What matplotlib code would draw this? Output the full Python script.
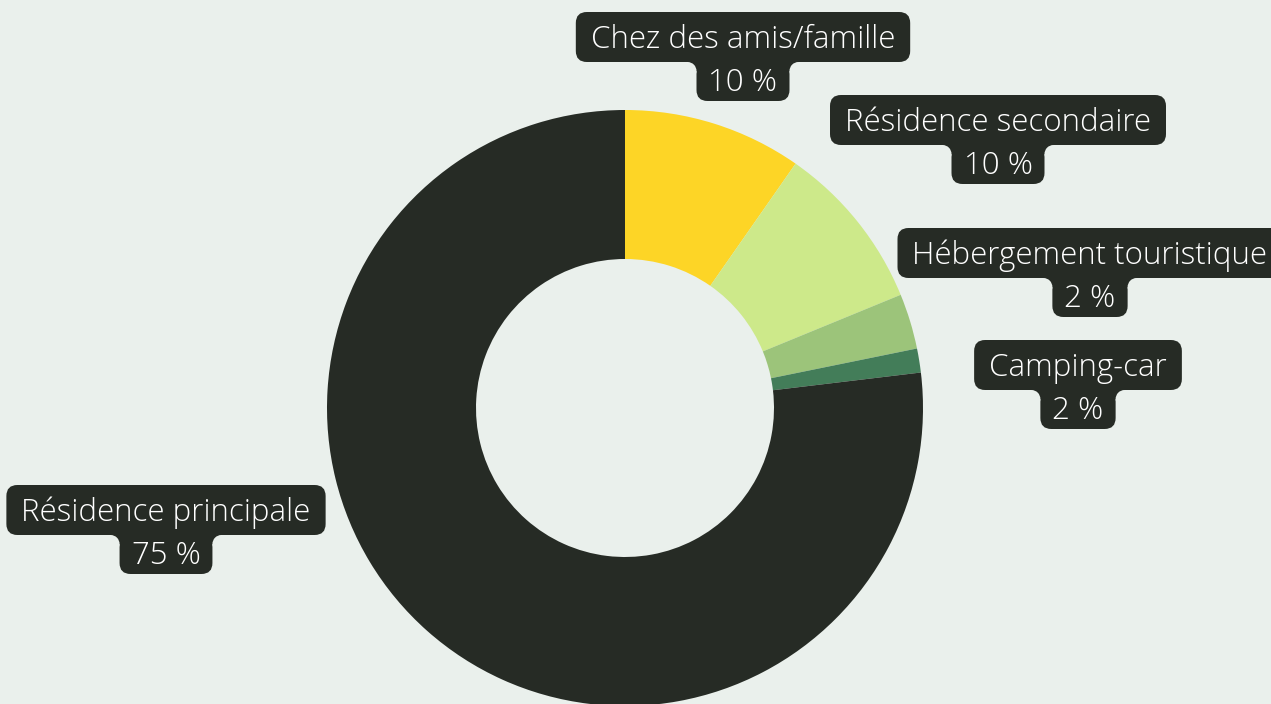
import matplotlib
matplotlib.use("Agg")
import matplotlib.pyplot as plt
from matplotlib.patches import FancyBboxPatch, Rectangle, Circle

# Shares; labels as printed on the chart
categories = ["Chez des amis/famille", "Résidence secondaire",
              "Hébergement touristique", "Camping-car", "Résidence principale"]
shares = [9.7, 9.1, 3.0, 1.3, 76.9]
pct_labels = ["10 %", "10 %", "2 %", "2 %", "75 %"]
colors = ["#FDD526", "#CDE98A", "#9CC47A", "#437D59", "#262B25"]

# centre of each label's name box (pixel coords, top-left origin)
label_pos = [(743, 37), (998, 120), (1090, 253), (1078, 365), (166, 510)]

BG = "#EAF0EC"
DARK = "#262B25"
W, H = 1271, 704

fig = plt.figure(figsize=(W / 100, H / 100), dpi=100)
fig.patch.set_facecolor(BG)
ax = fig.add_axes([0, 0, 1, 1])
ax.set_facecolor(BG)

cx, cy, R = 625, H - 408, 298
ax.pie(shares, colors=colors, startangle=90, counterclock=False,
       center=(cx, cy), radius=R,
       wedgeprops=dict(width=R - 149, linewidth=0, antialiased=True))

ax.set_xlim(0, W)
ax.set_ylim(0, H)
ax.set_aspect("auto")
ax.axis("off")

font = ["Open Sans", "DejaVu Sans"]
FS = 22.5
renderer = fig.canvas.get_renderer()

for (x, y), name, pct in zip(label_pos, categories, pct_labels):
    t1 = ax.text(x, H - y - 3, name, ha="center", va="center", fontsize=FS,
                 color="white", family=font, fontweight="light", zorder=6)
    t2 = ax.text(x, H - y - 46, pct, ha="center", va="center", fontsize=FS,
                 color="white", family=font, fontweight="light", zorder=6)
    e1 = t1.get_window_extent(renderer)
    e2 = t2.get_window_extent(renderer)
    # name box: 50 px tall
    nx0, nx1 = e1.x0 - 15, e1.x1 + 15
    ny0, ny1 = H - y - 25, H - y + 25
    ax.add_patch(FancyBboxPatch((nx0, ny0), nx1 - nx0, ny1 - ny0,
                                boxstyle="round,pad=0,rounding_size=11",
                                fc=DARK, ec="none", zorder=4))
    # percentage box hanging under it
    px0, px1 = e2.x0 - 12, e2.x1 + 12
    py0 = H - y - 25 - 39
    ax.add_patch(FancyBboxPatch((px0, py0), px1 - px0, ny0 + 12 - py0,
                                boxstyle="round,pad=0,rounding_size=11",
                                fc=DARK, ec="none", zorder=4))
    # concave fillets where the two boxes meet (overlapping to hide seams)
    r = 9
    ax.add_patch(Rectangle((px0 - r, ny0 - r), r + 3, r + 3,
                           fc=DARK, ec="none", zorder=4))
    ax.add_patch(Rectangle((px1 - 3, ny0 - r), r + 3, r + 3,
                           fc=DARK, ec="none", zorder=4))
    ax.add_patch(Circle((px0 - r, ny0 - r), r, fc=BG, ec="none", zorder=5))
    ax.add_patch(Circle((px1 + r, ny0 - r), r, fc=BG, ec="none", zorder=5))

fig.savefig("out.png", dpi=100, facecolor=BG)
